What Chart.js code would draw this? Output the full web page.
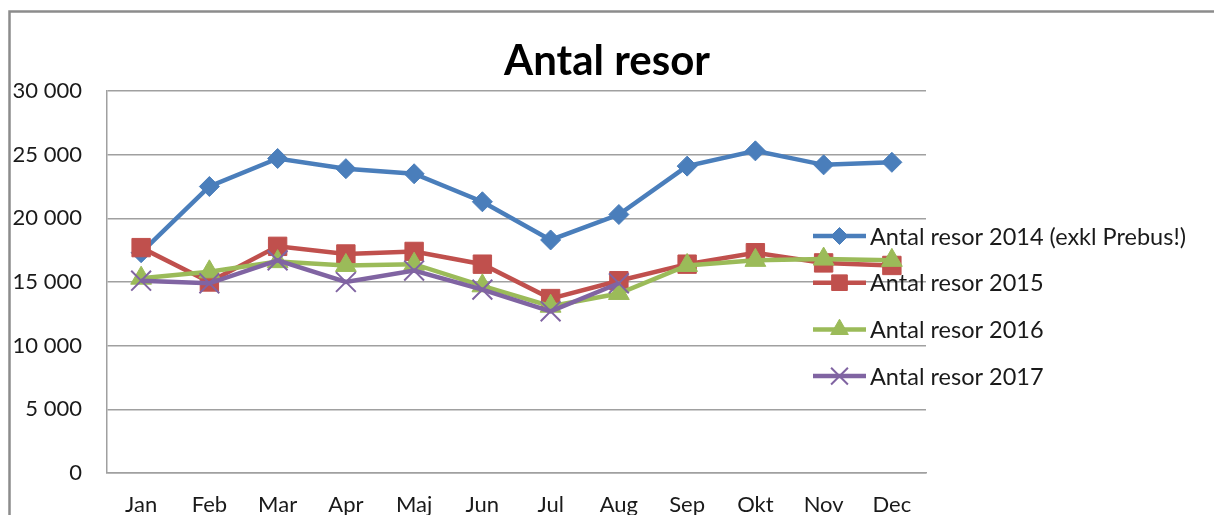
<!DOCTYPE html>
<html>
<head>
<meta charset="utf-8">
<script src="https://cdn.jsdelivr.net/npm/chart.js@4"></script>
<style>
    html, body { margin: 0; padding: 0; background: #fff; }
    #wrap { width: 1214px; height: 515px; }
</style>
</head>
<body>
<div id="wrap"><canvas id="resorChart" width="1214" height="515"></canvas></div>
<script>
// ===================
// Data
// ===================
const months = ['Jan', 'Feb', 'Mar', 'Apr', 'Maj', 'Jun', 'Jul', 'Aug', 'Sep', 'Okt', 'Nov', 'Dec'];
const resor2014 = [17300, 22500, 24700, 23900, 23500, 21300, 18300, 20300, 24100, 25300, 24200, 24400];
const resor2015 = [17700, 15000, 17800, 17200, 17400, 16400, 13700, 15100, 16400, 17300, 16500, 16300];
const resor2016 = [15300, 15800, 16600, 16300, 16400, 14700, 13100, 14100, 16300, 16700, 16800, 16700];
const resor2017 = [15100, 14900, 16700, 15000, 15900, 14400, 12700, 14900, null, null, null, null];
const yTicks = [0, 5000, 10000, 15000, 20000, 25000, 30000];

const FONT = 'Lato';
const GRID = '#a0a0a0';

function serie(label, data, color, style, radius, order) {
    return {
        label: label,
        data: data,
        borderColor: color,
        backgroundColor: color,
        borderWidth: 4.5,
        pointStyle: style,
        pointRadius: radius,
        pointBackgroundColor: color,
        pointBorderColor: color,
        pointBorderWidth: style === 'crossRot' ? 2 : 1,
        tension: 0,
        spanGaps: false,
        order: order
    };
}

// Ram runt diagrammet (som i Excel)
const framePlugin = {
    id: 'frame',
    beforeDraw(chart) {
        const ctx = chart.ctx;
        ctx.save();
        ctx.fillStyle = '#fff';
        ctx.fillRect(0, 0, chart.width, chart.height);
        ctx.strokeStyle = '#8c8c8c';
        ctx.lineWidth = 2.5;
        ctx.strokeRect(9.5, 11.5, chart.width + 20, chart.height + 20);
        ctx.restore();
    }
};

// Förklaring till höger, delvis över ritytan
const legendPlugin = {
    id: 'sideLegend',
    afterDraw(chart) {
        const ctx = chart.ctx;
        const x0 = 813, x1 = 866, top = 236, step = 46.7;
        ctx.save();
        chart.data.datasets.forEach(function (ds, i) {
            const y = top + i * step;
            ctx.strokeStyle = ds.borderColor;
            ctx.lineWidth = ds.borderWidth;
            ctx.beginPath();
            ctx.moveTo(x0, y);
            ctx.lineTo(x1, y);
            ctx.stroke();
            ctx.fillStyle = ds.pointBackgroundColor;
            ctx.strokeStyle = ds.pointBorderColor;
            ctx.lineWidth = ds.pointBorderWidth;
            Chart.helpers.drawPoint(ctx, {
                pointStyle: ds.pointStyle,
                radius: ds.pointRadius * 0.85,
                rotation: 0,
                borderWidth: ds.pointBorderWidth
            }, (x0 + x1) / 2, y);
            ctx.fillStyle = '#1a1a1a';
            ctx.font = '23.5px ' + FONT;
            ctx.textBaseline = 'middle';
            ctx.textAlign = 'left';
            ctx.fillText(ds.label, 870, y + 1);
        });
        ctx.restore();
    }
};

const ctx = document.getElementById('resorChart').getContext('2d');
const resorChart = new Chart(ctx, {
    type: 'line',
    data: {
        labels: months,
        datasets: [
            serie('Antal resor 2014 (exkl Prebus!)', resor2014, '#4a7ebb', 'rectRot', 10, 3),
            serie('Antal resor 2015', resor2015, '#c0504d', 'rect', 13, 2),
            serie('Antal resor 2016', resor2016, '#9bbb59', 'triangle', 12, 1),
            serie('Antal resor 2017', resor2017, '#8064a2', 'crossRot', 14, 0)
        ]
    },
    plugins: [framePlugin, legendPlugin],
    options: {
        responsive: false,
        animation: false,
        devicePixelRatio: 1,
        layout: { padding: 0 },
        plugins: {
            legend: { display: false },
            tooltip: { enabled: false },
            title: {
                display: true,
                text: 'Antal resor',
                color: '#000',
                font: { family: FONT, size: 42, weight: 'bold', lineHeight: 1.2 },
                padding: { top: 36, bottom: 4.6 }
            }
        },
        scales: {
            x: {
                offset: true,
                grid: { display: false, drawTicks: false },
                border: { display: true, color: GRID, width: 1.5 },
                ticks: {
                    color: '#1a1a1a',
                    padding: 19,
                    maxRotation: 0,
                    font: { family: FONT, size: 22 }
                },
                afterFit(s) { s.height = 42; }
            },
            y: {
                min: 0,
                max: 30000,
                afterBuildTicks(s) { s.ticks = yTicks.map(v => ({ value: v })); },
                grid: { color: GRID, lineWidth: 1.5, drawTicks: false },
                border: { display: true, color: GRID, width: 1.5 },
                ticks: {
                    color: '#1a1a1a',
                    padding: 25,
                    font: { family: FONT, size: 22 },
                    callback: v => String(v).replace(/\B(?=(\d{3})+(?!\d))/g, ' ')
                },
                afterFit(s) { s.width = 107; }
            },
            yr: {
                position: 'right',
                display: true,
                grid: { display: false, drawTicks: false },
                border: { display: false },
                ticks: { display: false },
                afterFit(s) { s.width = 288; }
            }
        }
    }
});
</script>
</body>
</html>
